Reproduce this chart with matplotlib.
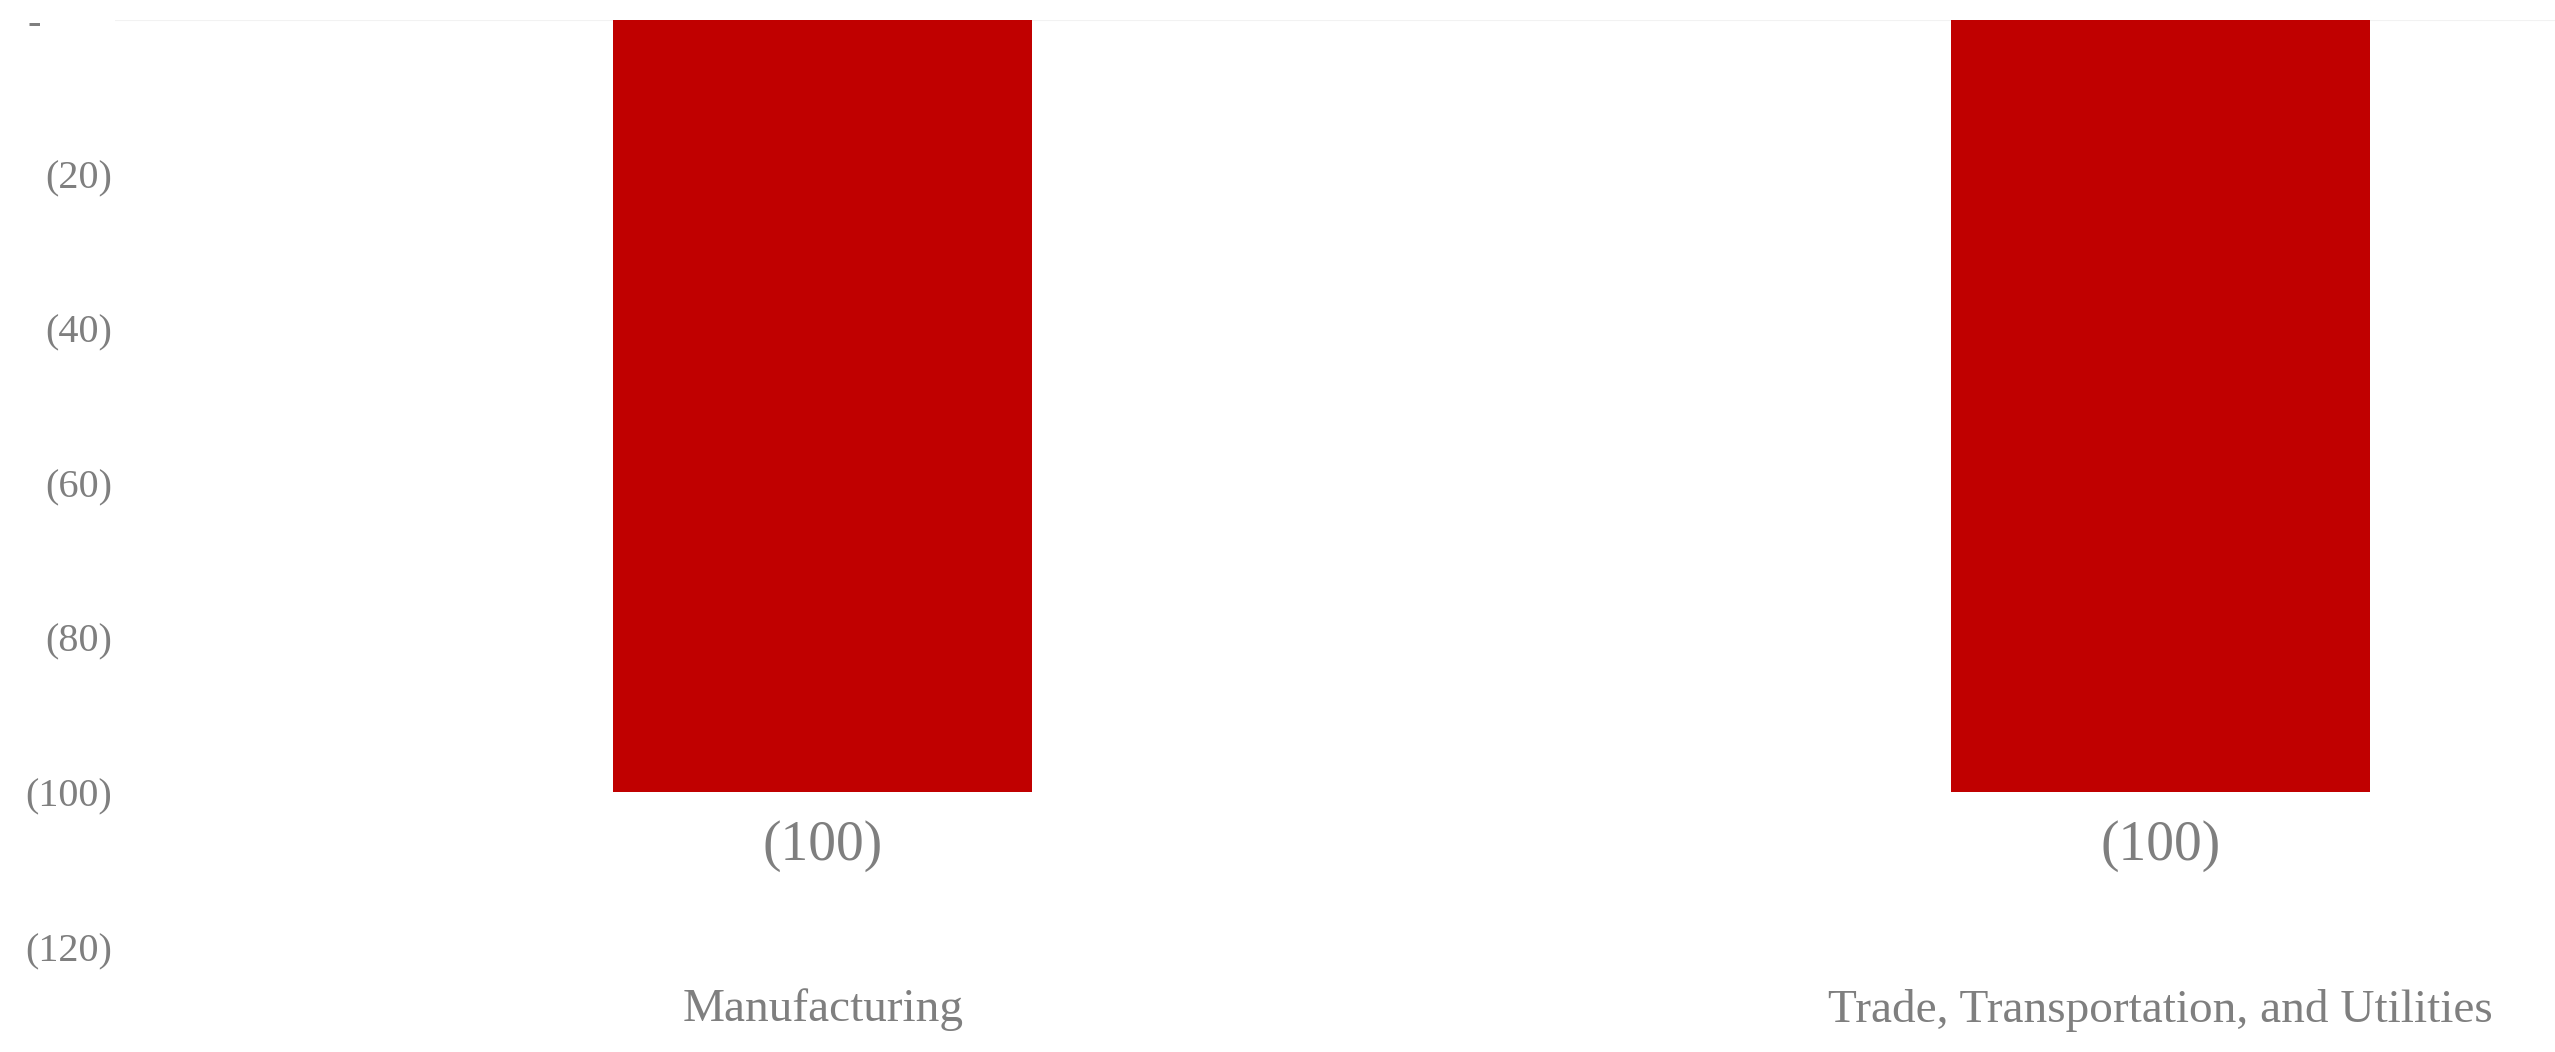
import matplotlib.pyplot as plt

# chart data
categories = ["Manufacturing", "Trade, Transportation, and Utilities"]
values = [-100, -100]
y_ticks = [0, -20, -40, -60, -80, -100, -120]

bar_color = "#C00000"
text_color = "#7F7F7F"

plt.rcParams['font.family'] = ['Liberation Serif', 'DejaVu Serif']

fig = plt.figure(figsize=(25.55, 10.52), dpi=100)
ax = fig.add_axes([115 / 2555, 1 - 947 / 1052, 1 - 115 / 2555, (947 - 19.5) / 1052])

x = list(range(len(categories)))
bars = ax.bar(x, values, width=0.313, color=bar_color, zorder=2)

# value labels under the bars
for xi, v in zip(x, values):
    lbl = f"({abs(v)})" if v < 0 else f"{v}"
    ax.annotate(lbl, (xi, v), xytext=(0, -54), textcoords="offset pixels",
                ha="center", va="center", fontsize=40, color=text_color)

# Excel style accounting format for the axis
def fmt(v):
    if v == 0:
        return "-       "
    return f"({abs(v)})" if v < 0 else str(v)

ax.set_ylim(-120, 0)
ax.set_yticks(y_ticks)
ax.set_yticklabels([fmt(v) for v in y_ticks], fontsize=29, color=text_color)
ax.set_xlim(-0.529, 1.295)
ax.set_xticks(x)
ax.set_xticklabels(categories, fontsize=34, color=text_color)

ax.tick_params(axis="both", length=0)
ax.tick_params(axis="x", pad=30)
ax.tick_params(axis="y", pad=2)
for s in ax.spines.values():
    s.set_visible(False)
ax.axhline(0, color="#F2F2F2", linewidth=1.5, zorder=1)

fig.savefig("out.png", dpi=100)
